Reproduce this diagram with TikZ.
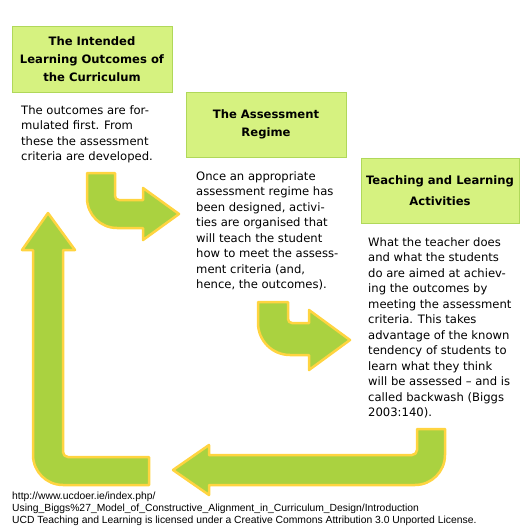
\documentclass[tikz,border=0pt]{standalone}
\usepackage{fontspec}
\setmainfont{DejaVu Sans}
\newfontfamily\footfont{Liberation Sans}
\definecolor{boxfill}{RGB}{214,242,128}
\definecolor{boxline}{RGB}{176,216,90}
\definecolor{arrfill}{RGB}{170,210,64}
\definecolor{arrline}{RGB}{255,212,64}
\begin{document}
\begin{tikzpicture}[x=1pt,y=-1pt,
  titlebox/.style={draw=boxline, fill=boxfill, line width=1pt, align=center, inner sep=0pt, font=\bfseries\fontsize{11.6}{18}\selectfont},
  bodytext/.style={anchor=base west, inner sep=0pt, font=\fontsize{11.6}{15.5}\selectfont},
  blockarrow/.style={fill=arrfill, draw=arrline, line width=2.5pt, line join=round}]
\useasboundingbox (0,0) rectangle (530,530);

% title boxes
\node[titlebox, minimum width=160pt, minimum height=66pt] (b1) at (92,59) {The Intended\\Learning Outcomes of\\the Curriculum};
\node[titlebox, minimum width=160pt, minimum height=65pt, font=\bfseries\fontsize{11.6}{17.5}\selectfont] (b2) at (266,124.5) {The Assessment\\Regime};
\node[titlebox, minimum width=158pt, minimum height=65pt, font=\bfseries\fontsize{11.6}{20.5}\selectfont] (b3) at (440,190.5) {Teaching and Learning\\Activities};

% body texts
\node[bodytext] (t1) at (21,114) {\begin{tabular}[t]{@{}l@{}}The outcomes are for-\\mulated first. From\\these the assessment\\criteria are developed.\end{tabular}};
\node[bodytext] (t2) at (196,180) {\begin{tabular}[t]{@{}l@{}}Once an appropriate\\assessment regime has\\been designed, activi-\\ties are organised that\\will teach the student\\how to meet the assess-\\ment criteria (and,\\hence, the outcomes).\end{tabular}};
\node[bodytext] (t3) at (368,246) {\begin{tabular}[t]{@{}l@{}}What the teacher does\\and what the students\\do are aimed at achiev-\\ing the outcomes by\\meeting the assessment\\criteria. This takes\\advantage of the known\\tendency of students to\\learn what they think\\will be assessed – and is\\called backwash (Biggs\\2003:140).\end{tabular}};

% arrows
\draw[blockarrow] (87,173) -- (115,173) -- (115,196) .. controls (115,198.2) and (116.8,200) .. (119,200) -- (143,200) -- (143,188) -- (179,214) -- (143,240) -- (143,228) -- (117,228) .. controls (100.4,228) and (87,214.6) .. (87,198) -- cycle;
\draw[blockarrow] (258,302) -- (288,302) -- (288,319) .. controls (288,321.2) and (289.8,323) .. (292,323) -- (309,323) -- (309,310) -- (350,340) -- (309,370) -- (309,355) -- (290,355) .. controls (272.3,355) and (258,340.7) .. (258,323) -- cycle;
\draw[blockarrow] (445,429) -- (417,429) -- (417,450) .. controls (417,452.8) and (414.8,455) .. (412,455) -- (209,455) -- (209,445) -- (173,470) -- (209,495) -- (209,485) -- (415,485) .. controls (431.6,485) and (445,471.6) .. (445,455) -- cycle;
\draw[blockarrow] (48,213) -- (75,250) -- (63,250) -- (63,452) .. controls (63,454.8) and (65.2,457) .. (68,457) -- (149,457) -- (149,485) -- (63,485) .. controls (46.4,485) and (33,471.6) .. (33,455) -- (33,250) -- (22,250) -- cycle;

% footer
\node[anchor=base west, inner sep=0pt, font=\footfont\fontsize{10.35}{12}\selectfont] (ft) at (12,499) {\begin{tabular}[t]{@{}l@{}}http://www.ucdoer.ie/index.php/\\Using\_Biggs\%27\_Model\_of\_Constructive\_Alignment\_in\_Curriculum\_Design/Introduction\\UCD Teaching and Learning is licensed under a Creative Commons Attribution 3.0 Unported License.\end{tabular}};
\end{tikzpicture}
\end{document}
